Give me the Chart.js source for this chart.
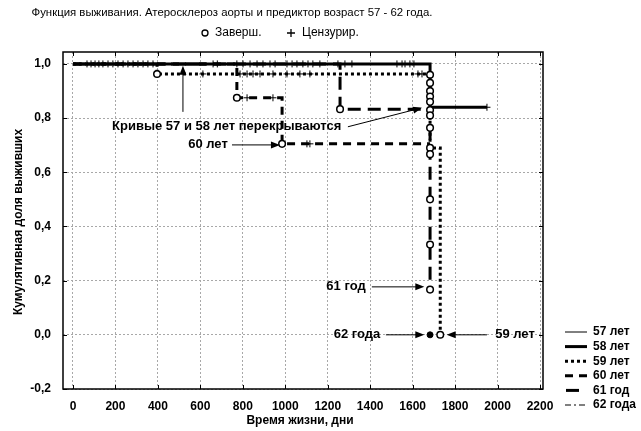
<!DOCTYPE html>
<html>
<head>
<meta charset="utf-8">
<script src="https://cdn.jsdelivr.net/npm/chart.js@4.4.1/dist/chart.umd.min.js"></script>
<style>
  html, body { margin: 0; padding: 0; background: #fff; }
  #wrap { width: 641px; height: 431px; }
</style>
</head>
<body>
<div id="wrap"><canvas id="survChart" width="641" height="431"></canvas></div>
<script>
// axis ticks
const xTicks = [0, 200, 400, 600, 800, 1000, 1200, 1400, 1600, 1800, 2000, 2200];
const yTicks = [-0.2, 0, 0.2, 0.4, 0.6, 0.8, 1.0];

// survival curves (time, cumulative share)
const groups = ["57 лет", "58 лет", "59 лет", "60 лет", "61 год", "62 года"];
const t57 = [0, 1682];            const s57 = [1, 0.84];
const t58 = [0, 1682, 1950];      const s58 = [1, 0.84, 0.84];
const t59 = [0, 396, 1682, 1730]; const s59 = [1, 0.963, 0.69, 0];
const t60 = [0, 772, 985, 1682];  const s60 = [1, 0.875, 0.705, 0.705];
const t61 = [0, 1258, 1682];      const s61 = [1, 0.833, 0.167];
const t62 = [0, 1682];            const s62 = [1, 1];

// completed (circles)
const eventT = [396, 772, 985, 1258, 1682, 1682, 1682, 1682, 1682, 1682, 1682, 1682, 1682, 1682, 1682, 1682, 1682, 1730];
const eventS = [0.963, 0.875, 0.705, 0.833, 0.96, 0.93, 0.90, 0.88, 0.86, 0.83, 0.81, 0.764, 0.69, 0.667, 0.5, 0.333, 0.167, 0];
const deathT = [1682];
const deathS = [0];

// censored (plus marks) by level
const cens100 = [66, 85, 104, 122, 141, 165, 188, 212, 236, 259, 283, 306, 330, 353, 377, 660, 680, 772, 801, 834, 867, 895, 928, 952, 1008, 1032, 1055, 1083, 1107, 1130, 1163, 1248, 1281, 1314, 1526, 1550, 1564, 1587, 1606];
const cens963 = [612, 787, 820, 848, 881, 942, 1008, 1069, 1116, 1625, 1644];
const cens875 = [820, 942];
const cens705 = [1102, 1116];
const cens840 = [1950];

function pts(t, s) {
  return t.map(function (v, i) { return { x: v, y: s[i] }; });
}
function level(t, y) {
  return t.map(function (v) { return { x: v, y: y }; });
}

// line styles of groups
const styles = [
  { w: 1, dash: [] },
  { w: 3, dash: [] },
  { w: 3, dash: [3, 3] },
  { w: 3, dash: [8, 6] },
  { w: 3, dash: [13, 7] },
  { w: 1, dash: [6, 3, 2, 3] }
];
const curves = [pts(t57, s57), pts(t58, s58), pts(t59, s59), pts(t60, s60), pts(t61, s61), pts(t62, s62)];

const plus = [].concat(level(cens100, 1), level(cens963, 0.963), level(cens875, 0.875), level(cens705, 0.705), level(cens840, 0.84));

var datasets = [
  { label: "Заверш.", data: pts(eventT, eventS), pointStyle: "circle", pointRadius: 3.3,
    pointBackgroundColor: "#fff", pointBorderColor: "#000", pointBorderWidth: 1.5, order: 0 },
  { label: "62", data: pts(deathT, deathS), pointStyle: "circle", pointRadius: 3,
    pointBackgroundColor: "#000", pointBorderColor: "#000", pointBorderWidth: 1, order: 0 },
  { label: "Цензурир.", data: plus, pointStyle: "cross", pointRadius: 3.5,
    pointBorderColor: "#000", pointBorderWidth: 1, order: 1 }
];
curves.forEach(function (c, i) {
  datasets.push({
    label: groups[i], data: c, showLine: true, stepped: true, pointRadius: 0,
    borderColor: "#000", borderWidth: styles[i].w, borderDash: styles[i].dash, order: 2 + i
  });
});

// annotations in data coordinates
const notes = [
  { text: "Кривые 57 и 58 лет перекрываются", x: 724, y: 0.768 },
  { text: "60 лет", x: 636, y: 0.701 },
  { text: "61 год", x: 1286, y: 0.177 },
  { text: "62 года", x: 1338, y: 0.0 },
  { text: "59 лет", x: 2082, y: 0.0 }
];
const arrows = [
  [518, 0.823, 518, 0.993],
  [1295, 0.768, 1644, 0.838],
  [749, 0.701, 975, 0.701],
  [1408, 0.177, 1655, 0.177],
  [1474, 0, 1655, 0],
  [1950, 0, 1760, 0]
];

function arrow(ctx, x1, y1, x2, y2) {
  var a = Math.atan2(y2 - y1, x2 - x1);
  ctx.beginPath();
  ctx.moveTo(x1, y1);
  ctx.lineTo(x2 - 6 * Math.cos(a), y2 - 6 * Math.sin(a));
  ctx.stroke();
  ctx.beginPath();
  ctx.moveTo(x2, y2);
  ctx.lineTo(x2 - 9 * Math.cos(a) + 3.5 * Math.sin(a), y2 - 9 * Math.sin(a) - 3.5 * Math.cos(a));
  ctx.lineTo(x2 - 9 * Math.cos(a) - 3.5 * Math.sin(a), y2 - 9 * Math.sin(a) + 3.5 * Math.cos(a));
  ctx.closePath();
  ctx.fill();
}

const extras = {
  id: "extras",
  afterDraw: function (chart) {
    var ctx = chart.ctx;
    var a = chart.chartArea;
    var xs = chart.scales.x, ys = chart.scales.y;
    ctx.save();
    ctx.strokeStyle = "#000";
    ctx.fillStyle = "#000";
    ctx.setLineDash([]);

    // frame and inner ticks
    ctx.lineWidth = 1.5;
    ctx.strokeRect(a.left, a.top, a.right - a.left, a.bottom - a.top);
    ctx.lineWidth = 1;
    ctx.beginPath();
    xTicks.forEach(function (v) {
      var px = Math.round(xs.getPixelForValue(v)) + 0.5;
      ctx.moveTo(px, a.bottom); ctx.lineTo(px, a.bottom - 4);
      ctx.moveTo(px, a.top); ctx.lineTo(px, a.top + 4);
    });
    yTicks.forEach(function (v) {
      var py = Math.round(ys.getPixelForValue(v)) + 0.5;
      ctx.moveTo(a.left, py); ctx.lineTo(a.left + 4, py);
      ctx.moveTo(a.right, py); ctx.lineTo(a.right - 4, py);
    });
    ctx.stroke();

    // title
    ctx.textBaseline = "middle";
    ctx.textAlign = "center";
    ctx.font = "11.4px 'Liberation Sans', Arial, sans-serif";
    ctx.fillText("Функция выживания. Атеросклероз аорты и предиктор возраст 57 - 62 года.", 232, 13);

    // top legend
    ctx.font = "12px 'Liberation Sans', Arial, sans-serif";
    ctx.textAlign = "left";
    ctx.lineWidth = 1.3;
    ctx.beginPath(); ctx.arc(205, 33, 3, 0, Math.PI * 2); ctx.stroke();
    ctx.fillText("Заверш.", 215, 33);
    ctx.beginPath();
    ctx.moveTo(287, 33); ctx.lineTo(295, 33);
    ctx.moveTo(291, 29); ctx.lineTo(291, 37);
    ctx.stroke();
    ctx.fillText("Цензурир.", 302, 33);

    // axis titles
    ctx.font = "bold 12px 'Liberation Sans', Arial, sans-serif";
    ctx.textAlign = "center";
    ctx.fillText("Время жизни, дни", 300, 421);
    ctx.save();
    ctx.translate(19, 222);
    ctx.rotate(-Math.PI / 2);
    ctx.fillText("Кумулятивная доля выживших", 0, 0);
    ctx.restore();

    // right legend
    ctx.textAlign = "left";
    groups.forEach(function (g, i) {
      var y = 332 + i * 14.6;
      ctx.lineWidth = styles[i].w;
      ctx.setLineDash(styles[i].dash);
      ctx.beginPath();
      if (i === 4) { ctx.moveTo(566, y); ctx.lineTo(580, y); }
      else { ctx.moveTo(565, y); ctx.lineTo(587, y); }
      ctx.stroke();
      ctx.setLineDash([]);
      ctx.fillText(g, 593, y);
    });

    // annotations
    ctx.font = "bold 13px 'Liberation Sans', Arial, sans-serif";
    ctx.lineWidth = 1;
    ctx.textAlign = "center";
    notes.forEach(function (n) {
      ctx.fillText(n.text, xs.getPixelForValue(n.x), ys.getPixelForValue(n.y));
    });
    arrows.forEach(function (r) {
      arrow(ctx, xs.getPixelForValue(r[0]), ys.getPixelForValue(r[1]),
        xs.getPixelForValue(r[2]), ys.getPixelForValue(r[3]));
    });
    ctx.restore();
  }
};

var ctx = document.getElementById("survChart").getContext("2d");
var survChart = new Chart(ctx, {
  type: "scatter",
  data: { datasets: datasets },
  options: {
    responsive: false,
    animation: false,
    layout: { padding: { left: 0, top: 52, right: 98, bottom: 0 } },
    plugins: { legend: { display: false }, tooltip: { enabled: false } },
    scales: {
      x: {
        type: "linear", min: -47, max: 2214,
        afterFit: function (s) { s.height = 42; },
        afterBuildTicks: function (s) { s.ticks = xTicks.map(function (v) { return { value: v }; }); },
        grid: { color: "#a8a8a8", lineWidth: 1, drawTicks: false },
        border: { display: false, dash: [2, 2] },
        ticks: { color: "#000", padding: 10, maxRotation: 0,
          font: { family: "'Liberation Sans', Arial, sans-serif", size: 12, weight: "bold" },
          callback: function (v) { return String(v); } }
      },
      y: {
        type: "linear", min: -0.2, max: 1.044,
        afterFit: function (s) { s.width = 63; },
        afterBuildTicks: function (s) { s.ticks = yTicks.map(function (v) { return { value: v }; }); },
        grid: { color: "#a8a8a8", lineWidth: 1, drawTicks: false },
        border: { display: false, dash: [2, 2] },
        ticks: { color: "#000", padding: 12,
          font: { family: "'Liberation Sans', Arial, sans-serif", size: 12, weight: "bold" },
          callback: function (v) { return v.toFixed(1).replace(".", ","); } }
      }
    }
  },
  plugins: [extras]
});
</script>
</body>
</html>
